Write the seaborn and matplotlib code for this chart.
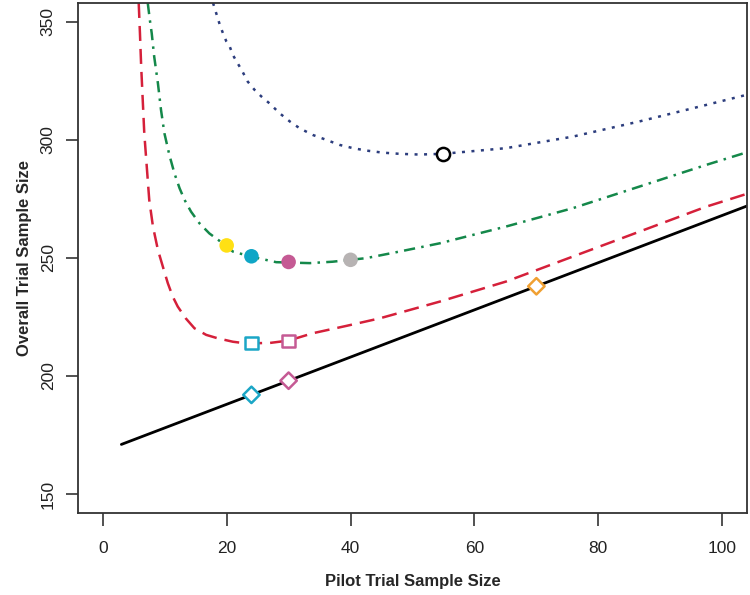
import matplotlib

matplotlib.use("Agg")
import matplotlib.pyplot as plt
import pandas as pd
import seaborn as sns

# black reference line
line_x = [3, 104]
line_y = [171, 272]

# red dashed curve
red_x = [5.8, 6.0, 6.2, 6.45, 6.7, 7.1, 7.5, 8.1, 8.9, 9.7, 10.5, 11.3, 12.1, 13.4,
         14.8, 16.7, 18.5, 21.0, 23.1, 27.0, 30.0, 33.9, 39.3, 44.7, 54.4, 65.1,
         75.9, 86.6, 97.4, 103.8]
red_y = [358, 345.2, 331.1, 316.9, 302.8, 288.7, 274.6, 263.3, 253.4, 246.3, 239.3,
         233.6, 229.4, 224.4, 220.2, 217.4, 216.0, 214.5, 213.8, 214.0, 215.0, 218.1,
         221.2, 224.4, 231.5, 240.0, 250.6, 261.1, 271.7, 277.0]

# green dash-dot curve
green_x = [7.26, 7.6, 7.9, 8.3, 8.9, 9.4, 9.95, 10.75, 11.56, 12.4, 13.2, 14.25,
           15.6, 17.2, 19.9, 21.0, 23.9, 28.0, 33.4, 37.1, 42.5, 47.9, 54.4, 65.1,
           75.9, 86.6, 97.4, 103.8]
green_y = [358, 350.8, 345.2, 335.3, 324.0, 312.7, 302.8, 293.6, 285.9, 279.5, 274.6,
           269.6, 264.7, 260.4, 255.2, 252.7, 250.6, 248.2, 247.8, 248.4, 249.9, 252.7,
           256.2, 263.3, 271.1, 280.2, 289.4, 294.6]

# blue dotted curve
blue_x = [17.8, 18.06, 18.9, 19.4, 19.95, 20.5, 21.0, 21.6, 22.4, 23.4, 24.5, 25.6,
          26.9, 28.55, 30.2, 31.8, 33.9, 36.1, 38.2, 40.4, 42.5, 45.2, 47.9, 51.1,
          54.9, 65.1, 75.9, 86.6, 97.4, 103.8]
blue_y = [358, 355.8, 348.7, 345.2, 341.7, 339.5, 336.0, 333.2, 329.7, 324.7, 321.2,
          318.4, 315.5, 311.3, 307.8, 304.9, 302.1, 300.0, 297.9, 296.5, 295.5, 294.6,
          294.1, 293.8, 294.1, 296.5, 301.4, 307.8, 314.8, 319.0]

# highlighted points
dot_x = [20, 24, 30, 40]
dot_y = [255.3, 250.7, 248.3, 249.2]
dot_colors = ["#FFE014", "#0FA6C6", "#C55A94", "#B7B3B3"]

square_x = [24, 30]
square_y = [214, 214.9]
square_colors = ["#1BA6C6", "#C55A94"]

diamond_x = [24, 30, 70]
diamond_y = [192, 198, 238]
diamond_colors = ["#1BA6C6", "#C55A94", "#F0A032"]

circle_x = [55]
circle_y = [294.1]

sns.set_style("ticks")
plt.rcParams["font.family"] = ["Liberation Sans", "DejaVu Sans"]

fig = plt.figure(figsize=(7.5, 5.95), dpi=100)
ax = fig.add_axes([0.104, 0.138, 0.892, 0.857])

sns.lineplot(x=line_x, y=line_y, color="black", linewidth=2.0, sort=False, ax=ax)
sns.lineplot(x=red_x, y=red_y, color="#D5203A", linewidth=1.8, sort=False, ax=ax,
             linestyle=(0, (6, 3.2)))
sns.lineplot(x=green_x, y=green_y, color="#14884A", linewidth=1.8, sort=False, ax=ax,
             linestyle=(0, (4.5, 2.5, 1, 2.5)))
sns.lineplot(x=blue_x, y=blue_y, color="#2C3D7D", linewidth=1.8, sort=False, ax=ax,
             linestyle=(0, (1.2, 2.6)))

dots = pd.DataFrame({"x": dot_x, "y": dot_y, "c": dot_colors})
sns.scatterplot(data=dots, x="x", y="y", hue="c", palette=dict(zip(dot_colors, dot_colors)),
                s=110, linewidth=0, legend=False, ax=ax, zorder=5)

for xs, ys, cs, mk, size in [
    (square_x, square_y, square_colors, "s", 80),
    (diamond_x, diamond_y, diamond_colors, "D", 70),
    (circle_x, circle_y, ["#000000"], "o", 90),
]:
    df = pd.DataFrame({"x": xs, "y": ys, "c": cs})
    sns.scatterplot(data=df, x="x", y="y", marker=mk, s=size, facecolor="white",
                    edgecolor=cs, linewidth=1.8, legend=False, ax=ax, zorder=6)

ax.set_xlim(-4, 104)
ax.set_ylim(142, 358)
ax.set_xticks([0, 20, 40, 60, 80, 100])
ax.set_yticks([150, 200, 250, 300, 350])
ax.tick_params(axis="both", direction="out", length=9, width=1.2, color="#333333",
               labelsize=12.5, labelcolor="#222222")
ax.tick_params(axis="x", pad=11)
ax.tick_params(axis="y", pad=7)
for lab in ax.get_yticklabels():
    lab.set_rotation(90)
    lab.set_va("center")
for sp in ax.spines.values():
    sp.set_visible(True)
    sp.set_linewidth(1.3)
    sp.set_color("#333333")

ax.set_xlabel("Pilot Trial Sample Size", fontsize=12, fontweight="bold", labelpad=13)
ax.set_ylabel("Overall Trial Sample Size", fontsize=12, fontweight="bold", labelpad=6)

fig.savefig("out.png", dpi=100, facecolor="white")
